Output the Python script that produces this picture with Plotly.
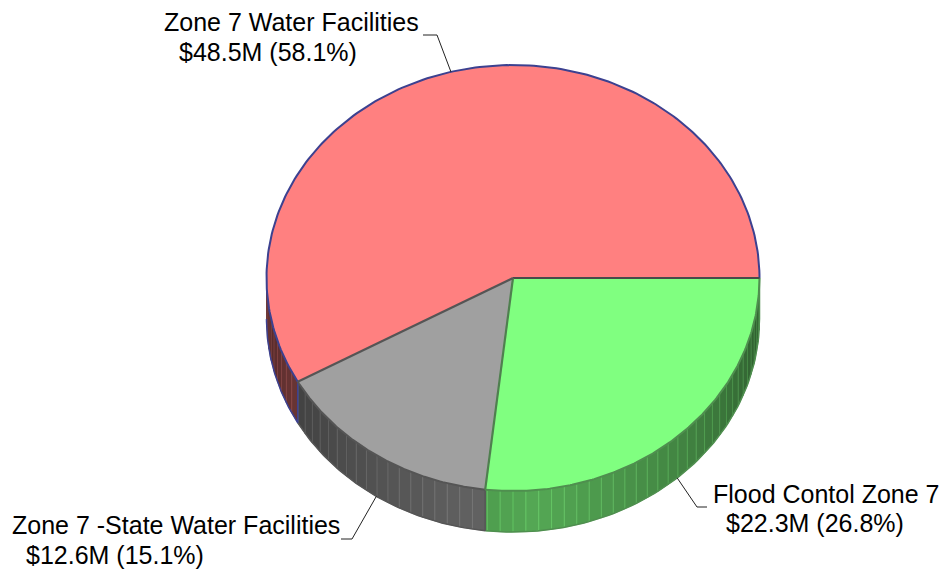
import numpy as np
import plotly.graph_objects as go

categories = ["Flood Contol Zone 7", "Zone 7 -State Water Facilities", "Zone 7 Water Facilities"]
amounts = ["$22.3M", "$12.6M", "$48.5M"]
percents = [26.8, 15.1, 58.1]

top_colors = ["#80ff80", "#a0a0a0", "#ff8080"]
edge_colors = ["#4f8f4f", "#555555", "#3c4190"]
wall_rgb = [(128, 255, 128), (160, 160, 160), (255, 128, 128)]

W, H = 941, 569
CX, CY, RX, RY, DEPTH = 513, 278, 246.5, 213, 41
STEP = 3.0
FONT = dict(family="Liberation Sans, Arial, sans-serif", size=25, color="#000000")
# label placement: (first-line x, first-line y, second-line x, second-line y, elbow x, elbow y, tail x)
LABELS = [
    (711, 494, 724, 523, 697, 507, 707),
    (10, 525, 24, 555, 352, 539, 341),
    (162, 22, 177, 52, 437, 35, 423),
]


def ex(t):
    return CX + RX * np.cos(np.radians(t))


def ey(t, d=0):
    return CY + RY * np.sin(np.radians(t)) + d


def shade(t):
    return max(0.3, 0.66 - 0.3 * abs(t - 85) / 80)


fig = go.Figure()
bounds = np.concatenate([[0], np.cumsum(percents) * 3.6])

# side wall (visible only on the front half)
for i, rgb in enumerate(wall_rgb):
    a0, a1 = bounds[i], min(bounds[i + 1], 180)
    if a1 <= a0:
        continue
    ticks = np.append(np.arange(a0, a1, STEP), a1)
    for s0, s1 in zip(ticks[:-1], ticks[1:]):
        f = shade((s0 + s1) / 2)
        tt = np.linspace(s0, s1, 5)
        xs = np.concatenate([ex(tt), ex(tt[::-1])])
        ys = np.concatenate([ey(tt), ey(tt[::-1], DEPTH)])
        col = "rgb(%d,%d,%d)" % tuple(int(c * f) for c in rgb)
        fig.add_trace(go.Scatter(x=xs, y=ys, mode="lines", fill="toself", fillcolor=col,
                                 line=dict(color=col, width=0.5), hoverinfo="skip"))
    # lighter separators between the slats
    for s in ticks[1:-1]:
        f = shade(s) + 0.13
        sep = "rgb(%d,%d,%d)" % tuple(min(255, int(c * f)) for c in rgb)
        fig.add_trace(go.Scatter(x=[ex(s), ex(s)], y=[ey(s), ey(s, DEPTH)], mode="lines",
                                 line=dict(color=sep, width=1), hoverinfo="skip"))
    # lower edge of the wall
    tt = np.linspace(a0, a1, 80)
    fig.add_trace(go.Scatter(x=ex(tt), y=ey(tt, DEPTH), mode="lines",
                             line=dict(color=edge_colors[i], width=1.5), hoverinfo="skip"))
    fig.add_trace(go.Scatter(x=[ex(a0), ex(a0)], y=[ey(a0), ey(a0, DEPTH)], mode="lines",
                             line=dict(color=edge_colors[i], width=1.5), hoverinfo="skip"))

# top face
for i, col in enumerate(top_colors):
    tt = np.linspace(bounds[i], bounds[i + 1], 200)
    xs = np.concatenate([[CX], ex(tt), [CX]])
    ys = np.concatenate([[CY], ey(tt), [CY]])
    fig.add_trace(go.Scatter(x=xs, y=ys, mode="lines", fill="toself", fillcolor=col,
                             line=dict(color=col, width=0), hoverinfo="skip"))
    fig.add_trace(go.Scatter(x=ex(tt), y=ey(tt), mode="lines",
                             line=dict(color=edge_colors[i], width=2), hoverinfo="skip"))

# spokes
for i, col in zip([0, 1, 2], ["#4a4a4a", "#4f7f4f", "#555555"]):
    a = bounds[i]
    fig.add_trace(go.Scatter(x=[CX, ex(a)], y=[CY, ey(a)], mode="lines",
                             line=dict(color=col, width=2.2), hoverinfo="skip"))

# labels and leader lines
annotations = []
for i, (x1, y1, x2, y2, ex_x, ex_y, tail) in enumerate(LABELS):
    mid = (bounds[i] + bounds[i + 1]) / 2
    d = DEPTH if 0 < mid < 180 else 0
    fig.add_trace(go.Scatter(x=[ex(mid), ex_x, tail], y=[ey(mid, d), ex_y, ex_y], mode="lines",
                             line=dict(color="#222222", width=1), hoverinfo="skip"))
    annotations.append(dict(x=x1, y=y1, text=categories[i], showarrow=False, xanchor="left",
                            yanchor="middle", font=FONT))
    annotations.append(dict(x=x2, y=y2, text="%s (%.1f%%)" % (amounts[i], percents[i]), showarrow=False,
                            xanchor="left", yanchor="middle", font=FONT))

fig.update_layout(
    width=W, height=H, autosize=False,
    margin=dict(l=0, r=0, t=0, b=0),
    paper_bgcolor="white", plot_bgcolor="white", showlegend=False,
    xaxis=dict(range=[0, W], visible=False, fixedrange=True),
    yaxis=dict(range=[H, 0], visible=False, fixedrange=True),
    annotations=annotations,
)
fig.write_html("out.html", config=dict(displayModeBar=False),
               post_script="document.body.style.margin='0';document.body.style.overflow='hidden';")
